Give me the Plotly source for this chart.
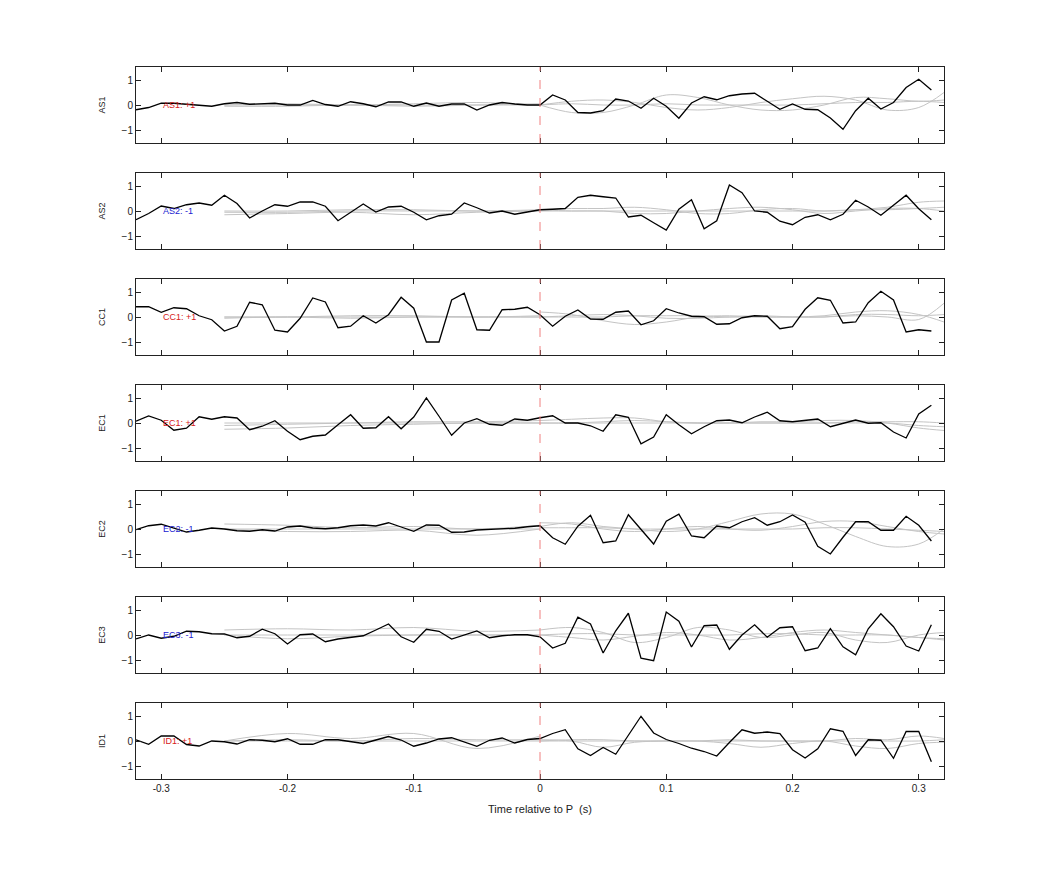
import plotly.graph_objects as go

t = [round(-0.32 + 0.01 * i, 2) for i in range(64)]

names = ["AS1", "AS2", "CC1", "EC1", "EC2", "EC3", "ID1"]
labels = ["AS1: +1", "AS2: -1", "CC1: +1", "EC1: +1", "EC2: -1", "EC3: -1", "ID1: +1"]
label_colors = ["#d62020", "#2020d0", "#d62020", "#d62020", "#2020d0", "#2020d0", "#d62020"]

AS1 = [-0.19, -0.1, 0.07, 0.07, 0.03, 0.0, -0.05, 0.05, 0.1, 0.03, 0.05, 0.07, 0.0, 0.0, 0.18, 0.02,
       -0.05, 0.13, 0.05, -0.07, 0.12, 0.12, -0.05, 0.08, -0.05, 0.04, 0.04, -0.2, 0.0, 0.1, 0.04, 0.0,
       0.0, 0.4, 0.2, -0.3, -0.32, -0.23, 0.24, 0.16, -0.13, 0.27, -0.05, -0.53, 0.08, 0.33, 0.21, 0.37,
       0.44, 0.47, 0.15, -0.17, 0.04, -0.17, -0.19, -0.52, -0.97, -0.23, 0.27, -0.16, 0.1, 0.7, 1.03, 0.6]
AS2 = [-0.35, -0.1, 0.2, 0.1, 0.25, 0.32, 0.23, 0.63, 0.3, -0.28, 0.0, 0.25, 0.19, 0.36, 0.36, 0.19,
       -0.39, -0.05, 0.28, -0.04, 0.16, 0.19, -0.05, -0.35, -0.19, -0.13, 0.32, 0.13, -0.08, 0.0, -0.13, -0.04,
       0.05, 0.07, 0.1, 0.55, 0.63, 0.57, 0.52, -0.24, -0.17, -0.47, -0.76, 0.07, 0.45, -0.71, -0.39, 1.04,
       0.73, 0.0, -0.05, -0.41, -0.55, -0.25, -0.15, -0.35, -0.13, 0.43, 0.16, -0.17, 0.23, 0.63, 0.09, -0.35]
CC1 = [0.41, 0.41, 0.19, 0.37, 0.33, 0.05, -0.11, -0.56, -0.37, 0.59, 0.49, -0.53, -0.6, -0.05, 0.76, 0.6,
       -0.43, -0.37, 0.05, -0.24, 0.09, 0.79, 0.35, -1.0, -1.0, 0.68, 0.95, -0.51, -0.53, 0.29, 0.31, 0.39,
       0.09, -0.37, 0.03, 0.28, -0.08, -0.09, 0.19, 0.24, -0.31, -0.15, 0.33, 0.16, 0.03, 0.01, -0.29, -0.27,
       -0.03, 0.05, 0.03, -0.47, -0.39, 0.31, 0.77, 0.67, -0.24, -0.2, 0.57, 1.03, 0.68, -0.6, -0.51, -0.56]
EC1 = [0.07, 0.28, 0.11, -0.29, -0.21, 0.25, 0.15, 0.25, 0.2, -0.27, -0.13, 0.09, -0.33, -0.67, -0.53, -0.48,
       -0.07, 0.33, -0.21, -0.19, 0.25, -0.23, 0.24, 1.0, 0.27, -0.49, 0.0, 0.17, -0.05, -0.09, 0.16, 0.11,
       0.21, 0.29, 0.0, 0.0, -0.11, -0.33, 0.33, 0.23, -0.83, -0.56, 0.33, -0.07, -0.43, -0.15, 0.09, 0.12,
       0.01, 0.24, 0.43, 0.09, 0.05, 0.09, 0.16, -0.15, -0.03, 0.12, -0.01, 0.01, -0.36, -0.6, 0.36, 0.71]
EC2 = [-0.03, 0.13, 0.19, 0.04, -0.12, -0.05, 0.04, 0.0, -0.07, -0.09, -0.03, -0.08, 0.08, 0.12, 0.04, 0.01,
       0.05, 0.13, 0.16, 0.12, 0.25, 0.08, -0.09, 0.16, 0.15, -0.13, -0.12, -0.04, -0.01, -0.01, 0.03, 0.09,
       0.13, -0.35, -0.61, 0.11, 0.55, -0.55, -0.48, 0.57, -0.01, -0.6, 0.31, 0.59, -0.28, -0.35, 0.12, 0.05,
       0.29, 0.45, 0.15, 0.29, 0.56, 0.27, -0.69, -1.0, -0.33, 0.29, 0.29, -0.05, -0.05, 0.51, 0.15, -0.48]
EC3 = [-0.16, 0.0, -0.13, -0.05, 0.15, 0.13, 0.05, 0.04, -0.11, -0.05, 0.23, 0.05, -0.36, 0.01, 0.04, -0.27,
       -0.16, -0.09, -0.03, 0.2, 0.44, -0.07, -0.29, 0.23, 0.15, -0.16, 0.0, 0.16, -0.11, -0.03, 0.01, 0.01,
       -0.07, -0.52, -0.33, 0.71, 0.44, -0.72, 0.17, 0.87, -0.93, -1.03, 0.92, 0.55, -0.48, 0.37, 0.4, -0.57,
       0.0, 0.41, -0.09, 0.29, 0.33, -0.63, -0.52, 0.25, -0.47, -0.79, 0.25, 0.85, 0.33, -0.44, -0.64, 0.41]
ID1 = [0.05, -0.13, 0.2, 0.2, -0.14, -0.2, 0.0, -0.03, -0.12, 0.05, 0.03, -0.03, 0.09, -0.13, -0.13, 0.05,
       0.05, -0.01, -0.1, 0.04, 0.18, 0.04, -0.21, -0.08, 0.08, 0.13, -0.04, -0.21, 0.03, 0.12, -0.08, 0.06,
       0.1, 0.3, 0.45, -0.31, -0.58, -0.26, -0.53, 0.22, 0.99, 0.32, 0.06, -0.1, -0.29, -0.42, -0.6, -0.06,
       0.45, 0.31, 0.36, 0.3, -0.35, -0.68, -0.31, 0.49, 0.39, -0.58, 0.05, 0.03, -0.69, 0.38, 0.38, -0.83]
series = [AS1, AS2, CC1, EC1, EC2, EC3, ID1]

# gray model curves: knots
g_pre_t = [-0.25, -0.2, -0.15, -0.1, -0.05, 0.0]
g_post_t = [0.0, 0.025, 0.05, 0.075, 0.1, 0.125, 0.15, 0.175, 0.2, 0.225, 0.25, 0.275, 0.3, 0.32]
gray_pre = [
    [[0.0, 0.05, 0.0, 0.05, 0.1, 0.0], [-0.05, -0.05, 0.0, -0.05, 0.0, 0.05], [0.0, 0.0, 0.0, 0.0, 0.0, 0.0]],
    [[0.0, 0.0, 0.05, 0.05, 0.0, 0.05], [-0.15, -0.1, -0.05, -0.15, -0.05, 0.0], [-0.05, -0.05, 0.0, 0.0, 0.0, 0.0]],
    [[0.0, 0.0, 0.05, 0.05, 0.0, 0.05], [-0.05, 0.0, -0.05, 0.0, 0.0, 0.0], [0.0, 0.0, 0.0, 0.0, 0.0, 0.0]],
    [[-0.1, -0.05, 0.0, 0.05, 0.05, 0.1], [-0.25, -0.2, -0.1, -0.05, 0.0, 0.0], [0.0, 0.0, 0.0, 0.0, 0.0, 0.0]],
    [[0.2, 0.15, 0.05, 0.1, 0.0, 0.15], [0.0, -0.1, -0.1, -0.05, -0.25, 0.0], [0.0, 0.0, 0.0, 0.0, 0.0, 0.0]],
    [[0.2, 0.25, 0.2, 0.3, 0.15, 0.2], [0.0, -0.15, -0.05, 0.0, 0.0, 0.0], [0.0, 0.0, 0.0, 0.0, 0.0, 0.0]],
    [[0.0, 0.3, 0.1, 0.3, -0.3, 0.2], [0.0, 0.05, 0.0, 0.1, 0.05, 0.05], [0.0, 0.0, 0.0, 0.0, 0.0, 0.0]],
]
gray_post = [
    [[0.0, -0.3, -0.3, 0.0, 0.4, 0.3, 0.0, -0.2, -0.2, 0.0, 0.3, 0.25, 0.15, 0.2],
     [0.0, 0.15, 0.2, 0.1, -0.1, -0.2, -0.1, 0.1, 0.25, 0.35, 0.2, -0.2, -0.1, 0.5],
     [0.0, 0.05, 0.0, 0.0, 0.05, 0.0, 0.0, 0.0, 0.0, 0.05, 0.1, 0.1, 0.15, 0.1]],
    [[0.05, 0.1, 0.1, 0.15, 0.05, -0.1, -0.1, 0.05, 0.1, 0.0, 0.05, 0.15, 0.35, 0.4],
     [0.05, 0.0, 0.0, -0.1, -0.1, 0.0, 0.1, 0.15, 0.05, -0.1, 0.0, 0.1, 0.1, 0.0],
     [0.0, 0.0, 0.0, 0.0, 0.0, 0.0, 0.0, 0.0, 0.0, 0.0, 0.05, 0.05, 0.1, 0.15]],
    [[0.2, 0.1, -0.15, -0.3, -0.2, 0.0, 0.05, 0.0, 0.0, 0.05, 0.2, 0.25, 0.1, -0.2],
     [0.0, 0.05, 0.1, 0.05, -0.05, -0.05, 0.0, 0.05, 0.0, 0.0, 0.05, 0.0, -0.1, 0.55],
     [0.0, 0.0, 0.0, 0.05, 0.05, 0.05, 0.0, 0.0, 0.0, 0.0, 0.1, 0.1, 0.05, 0.1]],
    [[0.1, 0.15, 0.2, 0.2, 0.05, 0.0, 0.0, 0.05, 0.05, 0.1, 0.1, 0.0, -0.2, -0.3],
     [0.0, 0.0, 0.05, 0.1, 0.05, 0.0, 0.0, 0.0, 0.0, 0.0, 0.0, 0.0, -0.1, -0.15],
     [0.0, 0.0, 0.0, 0.0, 0.0, 0.0, 0.0, 0.0, 0.0, 0.0, 0.05, 0.05, 0.05, 0.0]],
    [[0.1, 0.25, 0.1, 0.0, -0.1, 0.0, 0.3, 0.6, 0.6, 0.2, -0.3, -0.7, -0.6, 0.0],
     [0.25, 0.2, 0.0, -0.1, 0.0, 0.1, 0.0, -0.05, 0.1, 0.3, 0.3, 0.1, -0.1, -0.2],
     [0.05, 0.05, 0.05, 0.0, 0.0, 0.0, 0.0, 0.0, 0.0, 0.05, 0.05, 0.0, -0.05, -0.1]],
    [[0.2, 0.3, 0.1, -0.3, -0.1, 0.3, 0.2, -0.1, 0.0, 0.1, -0.2, -0.3, 0.0, 0.1],
     [0.0, -0.1, -0.2, -0.05, 0.1, 0.0, -0.2, -0.1, 0.1, 0.2, 0.1, 0.0, -0.1, -0.2],
     [0.0, 0.05, 0.05, 0.0, 0.0, 0.0, 0.0, 0.05, 0.05, 0.0, 0.0, 0.0, -0.1, -0.15]],
    [[0.05, 0.0, -0.25, -0.05, 0.0, 0.0, -0.1, -0.25, -0.1, 0.0, -0.2, -0.3, -0.1, -0.05],
     [0.0, 0.05, 0.05, 0.0, 0.0, 0.0, 0.05, 0.0, 0.0, 0.0, 0.1, 0.05, 0.2, 0.1],
     [0.0, 0.0, 0.0, 0.0, 0.0, 0.0, 0.0, 0.0, 0.0, 0.0, 0.0, 0.0, 0.0, 0.05]],
]

W, H = 1042, 875
OFF = 7
x0, x1 = (135 - OFF) / W, (943 - OFF) / W
fig = go.Figure()
layout = dict(width=W, height=H, margin=dict(l=0, r=0, t=0, b=0),
              paper_bgcolor="white", plot_bgcolor="white", showlegend=False,
              font=dict(family="Liberation Sans, Arial, sans-serif", size=10, color="#222"))
annotations = []
shapes = []
n = len(names)
for i in range(n):
    k = "" if i == 0 else str(i + 1)
    top, bot = 66 + 106 * i - OFF, 142 + 106 * i - OFF
    xa = dict(domain=[x0, x1], range=[-0.32, 0.32], tickvals=[-0.3, -0.2, -0.1, 0, 0.1, 0.2, 0.3],
              ticktext=["-0.3", "-0.2", "-0.1", "0", "0.1", "0.2", "0.3"],
              ticks="inside", ticklen=5, tickcolor="#222", showline=True, linecolor="#222", linewidth=1,
              mirror="ticks", showgrid=False, zeroline=False, anchor="y" + k,
              showticklabels=(i == n - 1), tickfont=dict(size=10, color="#222"))
    if i == n - 1:
        xa["title"] = dict(text="Time relative to P  (s)", font=dict(size=11, color="#222"), standoff=12)
    ya = dict(domain=[1 - bot / H, 1 - top / H], range=[-1.52, 1.52], tickvals=[-1, 0, 1],
              ticks="inside", ticklen=5, tickcolor="#222", showline=True, linecolor="#222", linewidth=1,
              mirror="ticks", showgrid=False, zeroline=False, anchor="x" + k,
              tickfont=dict(size=10, color="#222"),
              title=dict(text=names[i], font=dict(size=9, color="#222"), standoff=14))
    layout["xaxis" + k] = xa
    layout["yaxis" + k] = ya
    for c in gray_pre[i]:
        fig.add_trace(go.Scatter(x=g_pre_t, y=c, mode="lines", line=dict(color="#c4c4c4", width=1, shape="spline"),
                                 xaxis="x" + k, yaxis="y" + k, hoverinfo="skip"))
    for c in gray_post[i]:
        fig.add_trace(go.Scatter(x=g_post_t, y=c, mode="lines", line=dict(color="#c4c4c4", width=1, shape="spline"),
                                 xaxis="x" + k, yaxis="y" + k, hoverinfo="skip"))
    fig.add_trace(go.Scatter(x=t, y=series[i], mode="lines", line=dict(color="black", width=1.3),
                             xaxis="x" + k, yaxis="y" + k))
    shapes.append(dict(type="line", xref="x" + k, yref="y" + k + " domain", x0=0, x1=0, y0=0, y1=1,
                       line=dict(color="#f08080", width=1, dash="dash")))
    annotations.append(dict(x=-0.3, y=0, xref="x" + k, yref="y" + k, text=labels[i], showarrow=False,
                            xanchor="left", yanchor="middle", font=dict(size=9, color=label_colors[i])))
layout["annotations"] = annotations
layout["shapes"] = shapes
fig.update_layout(**layout)
fig.write_html("out.html")
